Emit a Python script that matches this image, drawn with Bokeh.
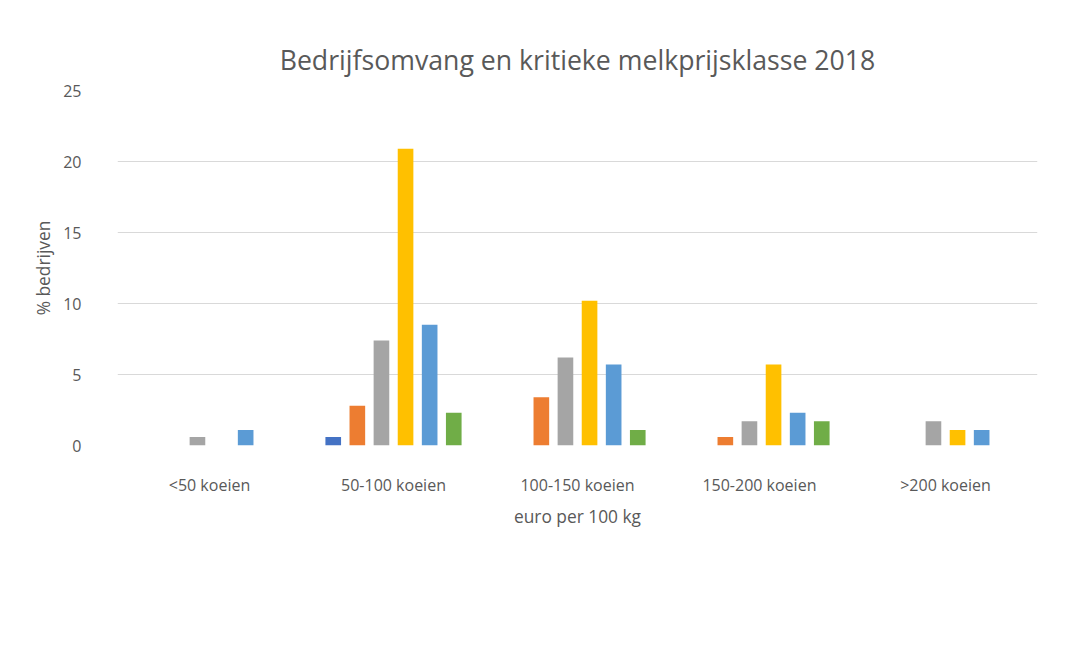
from bokeh.plotting import figure
from bokeh.models import FactorRange, ColumnDataSource, Legend, LegendItem, FixedTicker, Range1d
from bokeh.transform import dodge
from bokeh.embed import file_html
from bokeh.resources import INLINE

categories = ["<50 koeien", "50-100 koeien", "100-150 koeien", "150-200  koeien", ">200 koeien"]
series = ["<25", "25-30", "30-35", "35-40", "40-45", ">45"]
colors = ["#4472C4", "#ED7D31", "#A5A5A5", "#FFC000", "#5B9BD5", "#70AD47"]
v_lt25 = [0, 0.6, 0, 0, 0]
v_25_30 = [0, 2.8, 3.4, 0.6, 0]
v_30_35 = [0.6, 7.4, 6.2, 1.7, 1.7]
v_35_40 = [0, 20.9, 10.2, 5.7, 1.1]
v_40_45 = [1.1, 8.5, 5.7, 2.3, 1.1]
v_gt45 = [0, 2.3, 1.1, 1.7, 0]
values = [v_lt25, v_25_30, v_30_35, v_35_40, v_40_45, v_gt45]

FONT = "Open Sans"
GREY = "#595959"

p = figure(x_range=FactorRange(*categories), y_range=Range1d(0, 25),
           frame_width=920, frame_height=355, output_backend="svg", toolbar_location=None,
           min_border_left=117, min_border_right=10, min_border_top=90, min_border_bottom=165,
           title="Bedrijfsomvang en kritieke melkprijsklasse 2018")
p.title.text_font = FONT
p.title.text_font_size = "20pt"
p.title.text_font_style = "normal"
p.title.text_color = GREY
p.title.align = "center"
p.title.standoff = 25

src = ColumnDataSource(dict(cat=categories, **{f"s{i}": v for i, v in enumerate(values)}))
items = []
step = 0.131
for i, (name, col) in enumerate(zip(series, colors)):
    r = p.vbar(x=dodge("cat", (i - 2.5) * step, range=p.x_range), top=f"s{i}", width=0.085,
               source=src, color=col, line_color=None)
    items.append(LegendItem(label=name, renderers=[r]))

legend = Legend(items=items, orientation="horizontal", location=(135, -160),
                label_text_font=FONT, label_text_font_size="12pt", label_text_color=GREY,
                glyph_width=11, glyph_height=11, spacing=22, border_line_color=None,
                background_fill_alpha=0, label_standoff=5)
p.add_layout(legend)

p.yaxis.ticker = FixedTicker(ticks=[0, 5, 10, 15, 20, 25])
p.yaxis.axis_label = "% bedrijven"
p.xaxis.axis_label = "euro per 100 kg"
for ax in (p.xaxis, p.yaxis):
    ax.axis_line_color = None
    ax.major_tick_line_color = None
    ax.minor_tick_line_color = None
    ax.major_label_text_font = FONT
    ax.major_label_text_font_size = "12pt"
    ax.major_label_text_color = GREY
    ax.axis_label_text_font = FONT
    ax.axis_label_text_font_size = "13pt"
    ax.axis_label_text_font_style = "normal"
    ax.axis_label_text_color = GREY
p.xaxis.major_label_standoff = 22
p.yaxis.major_label_standoff = 30
p.xgrid.grid_line_color = None
p.ygrid.grid_line_color = "#D9D9D9"
p.outline_line_color = None
p.border_fill_color = "white"
p.x_range.range_padding = 0

open("out.html", "w").write(file_html(p, INLINE))
